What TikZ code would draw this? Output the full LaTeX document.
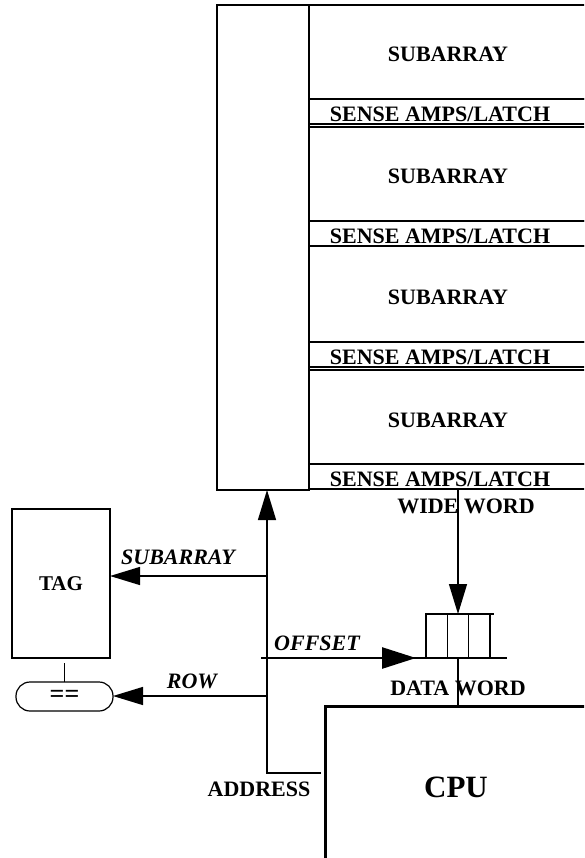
\documentclass[tikz,border=0pt]{standalone}
\usepackage{fontspec}
\setmainfont{Liberation Serif}
\usetikzlibrary{arrows.meta,positioning,calc}
\tikzset{
  blk/.style={rectangle, draw, line width=1.5pt, outer sep=0pt, inner sep=0pt},
  txt/.style={font=\fontsize{22}{24}\selectfont\bfseries, inner sep=0pt, text depth=0pt},
  lbl/.style={font=\fontsize{22}{24}\selectfont\bfseries\itshape, inner sep=0pt, text depth=0pt},
  subarr/.style={blk, txt, text height=20pt, minimum width=278pt, minimum height=94pt},
  samp/.style={blk, minimum width=278pt, minimum height=25pt},
  unit/.style={blk, line width=1.2pt},
  fl/.style={-{Triangle[length=30pt, width=18pt]}, line width=1.3pt},
  bus/.style={line width=2.6pt},
}
\begin{document}
\begin{tikzpicture}[x=1pt, y=-1pt]
\useasboundingbox (0,0) rectangle (584,858);
\clip (0,0) rectangle (584,858);
% memory array
\node[blk, minimum width=92pt, minimum height=485pt] (dec) at (263,247.5) {};
\node[subarr, anchor=north west] (sub1) at (dec.north east) {SUBARRAY};
\node[samp, below=0pt of sub1] (sa1) {};
\node[subarr, below=3pt of sa1] (sub2) {SUBARRAY};
\node[samp, below=0pt of sub2] (sa2) {};
\node[subarr, minimum height=96pt, below=0pt of sa2] (sub3) {SUBARRAY};
\node[samp, below=0pt of sub3] (sa3) {};
\node[subarr, below=3pt of sa3] (sub4) {SUBARRAY};
\node[samp, below=0pt of sub4] (sa4) {};
\node[txt] (sa1t) at ([xshift=-8pt, yshift=-3pt]sa1.center) {SENSE AMPS/LATCH};
\node[txt] (sa2t) at ([xshift=-8pt, yshift=-3pt]sa2.center) {SENSE AMPS/LATCH};
\node[txt] (sa3t) at ([xshift=-8pt, yshift=-3pt]sa3.center) {SENSE AMPS/LATCH};
\node[txt] (sa4t) at ([xshift=-8pt, yshift=-3pt]sa4.center) {SENSE AMPS/LATCH};
% tag side
\node[unit, font=\fontsize{21}{23}\selectfont\bfseries, minimum width=98pt, minimum height=149pt] (tag) at (61,583.5) {TAG};
\node[unit, txt, font=\fontsize{26}{28}\selectfont\bfseries, rounded corners=14pt, minimum width=97pt, minimum height=29pt] (cmp) at (64.5,696.5) {==};
\draw[line width=1.2pt, shorten <=5pt] (cmp.north |- tag.south) -- (cmp.north);
% cpu and register
\node[blk, line width=3pt, font=\fontsize{31}{34}\selectfont\bfseries, minimum width=262pt, minimum height=162pt] (cpu) at (456,787) {CPU};
\node[unit, minimum width=64pt, minimum height=44pt] (reg) at (458,636) {};
\draw[line width=1.2pt] ($(reg.north west)!1/3!(reg.north east)$) -- ($(reg.south west)!1/3!(reg.south east)$);
\draw[line width=1.2pt] ($(reg.north west)!2/3!(reg.north east)$) -- ($(reg.south west)!2/3!(reg.south east)$);
\draw[line width=1.2pt] (reg.north east) -- ++(4,0);
% address bus
\coordinate (abot) at (267,773);
\coordinate (asub) at (267,576);
\coordinate (arow) at (267,696);
\coordinate (ofs) at (261,658);
\draw[fl, shorten <=4pt] (cpu.west |- abot) -- (abot) -- (abot |- dec.south);
\draw[fl] (asub) -- (asub -| tag.east);
\draw[fl] (arow) -- (arow -| cmp.east);
\draw[bus] (ofs) -- ([xshift=17pt]reg.south east);
\draw[bus, -{Triangle[length=34pt, width=21pt]}] (ofs) -- ([xshift=-10pt]reg.south west);
\draw[fl] (sa4.south -| reg.north) -- (reg.north);
\draw[line width=2pt] (reg.south) -- (reg.south |- cpu.north);
% labels
\node[txt] (wwl) at (466,506) {WIDE WORD};
\node[txt] (dwl) at (458,688) {DATA WORD};
\node[txt] (adl) at (259,789) {ADDRESS};
\node[lbl] (subl) at (178,557) {SUBARRAY};
\node[lbl] (rowl) at (192,681) {ROW};
\node[lbl] (ofsl) at (317,643) {OFFSET};
\end{tikzpicture}
\end{document}
